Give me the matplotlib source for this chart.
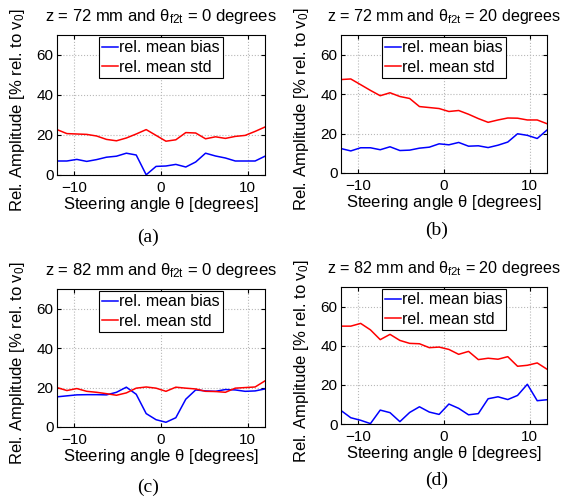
import numpy as np
import matplotlib
matplotlib.use('Agg')
import matplotlib.pyplot as plt

plt.rcParams['font.family'] = ['Liberation Sans', 'DejaVu Sans']
plt.rcParams['mathtext.fontset'] = 'custom'
plt.rcParams['mathtext.rm'] = 'Liberation Sans'
plt.rcParams['mathtext.it'] = 'Liberation Sans'

# steering angles (22 steps from -12 to 12 degrees)
angle = [-12.0, -10.86, -9.71, -8.57, -7.43, -6.29, -5.14, -4.0, -2.86, -1.71, -0.57,
         0.57, 1.71, 2.86, 4.0, 5.14, 6.29, 7.43, 8.57, 9.71, 10.86, 12.0]

# (a) z = 72 mm, theta_f2t = 0
bias_a = [7.0, 7.0, 7.8, 6.8, 7.7, 8.9, 9.4, 10.9, 10.0, 0.1, 4.3,
          4.5, 5.3, 4.0, 6.5, 10.9, 9.5, 8.5, 7.0, 7.0, 7.0, 9.4]
std_a = [22.7, 20.7, 20.5, 20.3, 19.5, 17.8, 17.1, 18.5, 20.5, 22.7, 19.8,
         16.9, 17.6, 21.2, 21.0, 18.1, 19.1, 18.3, 19.3, 19.8, 21.8, 24.0]

# (b) z = 72 mm, theta_f2t = 20
bias_b = [12.4, 11.2, 12.8, 12.8, 11.8, 13.3, 11.4, 11.6, 12.6, 13.1, 14.8,
          14.3, 15.5, 13.6, 13.8, 12.9, 14.1, 15.7, 19.9, 19.1, 17.5, 21.8]
std_b = [47.4, 47.7, 44.8, 41.9, 39.2, 40.7, 38.8, 37.8, 33.7, 33.2, 32.7,
         31.2, 31.7, 29.8, 27.6, 25.7, 26.9, 27.9, 27.8, 26.9, 26.9, 25.0]

# (c) z = 82 mm, theta_f2t = 0
bias_c = [15.3, 15.8, 16.3, 16.4, 16.4, 16.3, 17.6, 20.2, 16.6, 6.8, 3.7,
          2.4, 4.7, 14.1, 18.8, 18.3, 18.1, 19.0, 18.8, 18.1, 18.3, 19.3]
std_c = [20.0, 18.5, 19.5, 18.1, 17.6, 16.9, 16.1, 17.3, 19.7, 20.3, 19.7,
         18.1, 20.2, 19.7, 19.3, 18.1, 18.0, 17.6, 19.7, 20.0, 20.3, 23.4]

# (d) z = 82 mm, theta_f2t = 20
bias_d = [6.9, 3.2, 1.9, 0.2, 7.1, 5.8, 1.2, 5.9, 8.8, 6.1, 4.9,
          10.2, 8.0, 4.7, 5.3, 12.9, 13.9, 12.5, 14.6, 20.3, 11.9, 12.4]
std_d = [50.0, 50.0, 51.4, 48.1, 43.1, 45.8, 42.7, 41.2, 41.0, 39.0, 39.3,
         38.1, 35.6, 37.1, 32.9, 33.6, 33.1, 34.4, 29.5, 30.0, 31.2, 28.0]

titles = [r'z = 72 mm and $\theta_{\rm f2t}$ = 0 degrees',
          r'z = 72 mm and $\theta_{\rm f2t}$ = 20 degrees',
          r'z = 82 mm and $\theta_{\rm f2t}$ = 0 degrees',
          r'z = 82 mm and $\theta_{\rm f2t}$ = 20 degrees']
captions = ['(a)', '(b)', '(c)', '(d)']
biases = [bias_a, bias_b, bias_c, bias_d]
stds = [std_a, std_b, std_c, std_d]

W, H = 563, 500
fig = plt.figure(figsize=(W / 100, H / 100), dpi=100)

# axes boxes in pixels: left, right, top, bottom
boxes = [(57, 265, 35, 175), (341, 547, 35, 173),
         (57, 265, 289, 427), (341, 547, 287, 424)]
cap_pos = [(148, 237), (437, 230), (148, 487), (437, 480)]

for k in range(4):
    l, r, t, b = boxes[k]
    w, h = r - l, b - t
    ax = fig.add_axes([l / W, 1 - b / H, w / W, h / H])
    ax.plot(angle, biases[k], color='b', lw=1.1, label='rel. mean bias')
    ax.plot(angle, stds[k], color='r', lw=1.1, label='rel. mean std')
    ax.set_xlim(-12, 12)
    ax.set_ylim(0, 70)
    ax.set_xticks([-10, 0, 10])
    ax.set_yticks([0, 20, 40, 60])
    ax.grid(True, linestyle=':', color='#b8b8b8', lw=0.8)
    ax.tick_params(direction='in', top=True, right=True, length=3, labelsize=11)
    ax.tick_params(axis='x', pad=4.5)
    ax.tick_params(axis='y', pad=2.5)
    for s in ax.spines.values():
        s.set_linewidth(0.8)
    tfs = 12 if k % 2 == 0 else 11.6
    ax.set_title(titles[k], fontsize=tfs, pad=10)
    ax.set_xlabel(r'Steering angle $\theta$ [degrees]', fontsize=12)
    ax.xaxis.set_label_coords(0.5, -20 / h)
    ax.set_ylabel(r'Rel. Amplitude [% rel. to v$_{\rm 0}$]', fontsize=12)
    ax.yaxis.set_label_coords(-30 / w, 0.46)
    leg = ax.legend(loc='upper center', fontsize=11.5, handlelength=1.0, handletextpad=0.1,
                    labelspacing=0.3, borderpad=0.2, borderaxespad=0.13, fancybox=False,
                    framealpha=1, edgecolor='k')
    leg.get_frame().set_linewidth(0.8)
    cx, cy = cap_pos[k]
    fig.text(cx / W, 1 - cy / H, captions[k], ha='center', va='center',
             family='Liberation Serif', fontsize=14)

fig.savefig('out.png', dpi=100)
